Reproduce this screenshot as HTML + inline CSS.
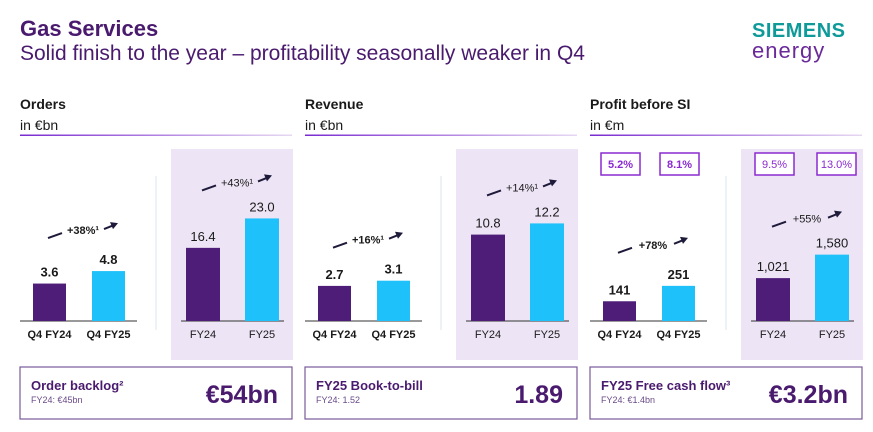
<!DOCTYPE html>
<html><head><meta charset="utf-8"><style>
body{margin:0;width:873px;height:427px;overflow:hidden;background:#fff;font-family:"Liberation Sans",Arial,sans-serif}
svg text{font-family:"Liberation Sans",Arial,sans-serif}
</style></head><body>
<svg id="s" width="873" height="427" xmlns="http://www.w3.org/2000/svg">
<defs><linearGradient id="ul" x1="0" x2="1" y1="0" y2="0"><stop offset="0" stop-color="#7a2ad0"/><stop offset="1" stop-color="#e6d8f2"/></linearGradient></defs>
<text x="20" y="36" font-size="22" font-weight="bold" fill="#4a1a6e">Gas Services</text>
<text x="20" y="60" font-size="21" fill="#4a1a6e">Solid finish to the year – profitability seasonally weaker in Q4</text>
<g>
<text x="752" y="37" font-size="20" font-weight="bold" fill="#0f9a9a" letter-spacing="0.5">SIEMENS</text>
<text x="752" y="58" font-size="22" fill="#6b2a9a" letter-spacing="1">energy</text>
</g>
<g id="charts"></g>
</svg>
<script>
const panelTitles=["Orders","Revenue","Profit before SI"];
const panelUnits=["in €bn","in €bn","in €m"];
const qCats=["Q4 FY24","Q4 FY25"];
const fyCats=["FY24","FY25"];
const qVals=[[3.6,4.8],[2.7,3.1],[141,251]];
const fyVals=[[16.4,23.0],[10.8,12.2],[1021,1580]];
const qLabels=[["3.6","4.8"],["2.7","3.1"],["141","251"]];
const fyLabels=[["16.4","23.0"],["10.8","12.2"],["1,021","1,580"]];
const qGrowth=["+38%¹","+16%¹","+78%"];
const fyGrowth=["+43%¹","+14%¹","+55%"];
const marginQ=["5.2%","8.1%"];
const marginFY=["9.5%","13.0%"];
const boxTitles=["Order backlog²","FY25 Book-to-bill","FY25 Free cash flow³"];
const boxSubs=["FY24: €45bn","FY24: 1.52","FY24: €1.4bn"];
const boxValues=["€54bn","1.89","€3.2bn"];
const qScale=[10.4,13,0.14], fyScale=[4.46,8.0,0.042];
const NS="http://www.w3.org/2000/svg";
const g=document.getElementById('charts');
function el(t,a,txt){const e=document.createElementNS(NS,t);for(const k in a)e.setAttribute(k,a[k]);if(txt!==undefined)e.textContent=txt;g.appendChild(e);return e;}
const base=321;
const PURPLE="#4d1d78",CYAN="#1fc1fa",DARK="#1e1a3a";
for(let p=0;p<3;p++){
 const x0=20+p*285;
 let e;
 e=el('text',{x:x0,y:109,'font-size':14,'font-weight':'bold',fill:'#1a1a1a'},panelTitles[p]);
 
 e=el('text',{x:x0,y:130,'font-size':14,fill:'#1a1a1a'},panelUnits[p]);
 
 e=el('rect',{x:x0,y:134.5,width:272,height:1.5,fill:'url(#ul)'});
 
 e=el('rect',{x:x0+151,y:149,width:122,height:211,fill:'#ede4f5'});
 
 e=el('line',{x1:x0+136,y1:176,x2:x0+136,y2:330,stroke:'#d8e6ee','stroke-width':1});
 
 e=el('line',{x1:x0,y1:base,x2:x0+117,y2:base,stroke:'#333','stroke-width':1});
 
 e=el('line',{x1:x0+161,y1:base,x2:x0+264,y2:base,stroke:'#333','stroke-width':1});
 
 const qx=[x0+13,x0+72], fx=[x0+166,x0+225];
 let tops=[],ftops=[];
 for(let i=0;i<2;i++){
  const h=qVals[p][i]*qScale[p]; tops.push(base-h);
  e=el('rect',{x:qx[i],y:base-h,width:33,height:h,fill:i?CYAN:PURPLE});
  
  e=el('text',{x:qx[i]+16.5,y:base-h-7,'font-size':13,'font-weight':'bold','text-anchor':'middle',fill:'#1a1a1a'},qLabels[p][i]);
  
  e=el('text',{x:qx[i]+16.5,y:338,'font-size':11,'font-weight':'bold','text-anchor':'middle',fill:'#1a1a1a'},qCats[i]);
  
  const fh=fyVals[p][i]*fyScale[p]; ftops.push(base-fh);
  e=el('rect',{x:fx[i],y:base-fh,width:34,height:fh,fill:i?CYAN:PURPLE});
  
  e=el('text',{x:fx[i]+17,y:base-fh-7,'font-size':13,'text-anchor':'middle',fill:'#1a1a1a'},fyLabels[p][i]);
  
  e=el('text',{x:fx[i]+17,y:338,'font-size':11,'text-anchor':'middle',fill:'#1a1a1a'},fyCats[i]);
  
 }
 const arrows=[[x0+28,tops[1]-38,qGrowth[p],true],[x0+182,ftops[1]-33,fyGrowth[p],false]];
 for(const [ax,ay,t,b] of arrows){
  e=el('line',{x1:ax,y1:ay+5,x2:ax+14,y2:ay,stroke:DARK,'stroke-width':2});
  
  e=el('text',{x:ax+35,y:ay+1,'font-size':11,'font-weight':b?'bold':'normal','text-anchor':'middle',fill:'#1a1a1a'},t);
  
  e=el('line',{x1:ax+56,y1:ay-4,x2:ax+66,y2:ay-8,stroke:DARK,'stroke-width':2});
  
  e=el('polygon',{points:`${ax+70},${ay-10} ${ax+62},${ay-11} ${ax+65},${ay-4}`,fill:DARK});
  
 }
 e=el('rect',{x:x0,y:367,width:272,height:52,fill:'#fff',stroke:'#7a5a9a','stroke-width':1.2});
 
 e=el('text',{x:x0+11,y:390,'font-size':13,'font-weight':'bold',fill:'#4a1a6e'},boxTitles[p]);
 
 e=el('text',{x:x0+11,y:403,'font-size':9,fill:'#6a4a8a'},boxSubs[p]);
 
 e=el('text',{x:x0+258,y:403,'font-size':25,'font-weight':'bold','text-anchor':'end',fill:'#4a1a6e'},boxValues[p]);
 
 if(p===2){
  const mx=[x0+11,x0+70,x0+165,x0+227], mt=marginQ.concat(marginFY);
  for(let i=0;i<4;i++){
   e=el('rect',{x:mx[i],y:153,width:39,height:22,fill:'#fff',stroke:'#8a2ad0','stroke-width':1.5});
   
   e=el('text',{x:mx[i]+19.5,y:168,'font-size':11,'font-weight':i<2?'bold':'normal','text-anchor':'middle',fill:'#8a2ad0'},mt[i]);
   
  }
 }
}
</script>
</body></html>
